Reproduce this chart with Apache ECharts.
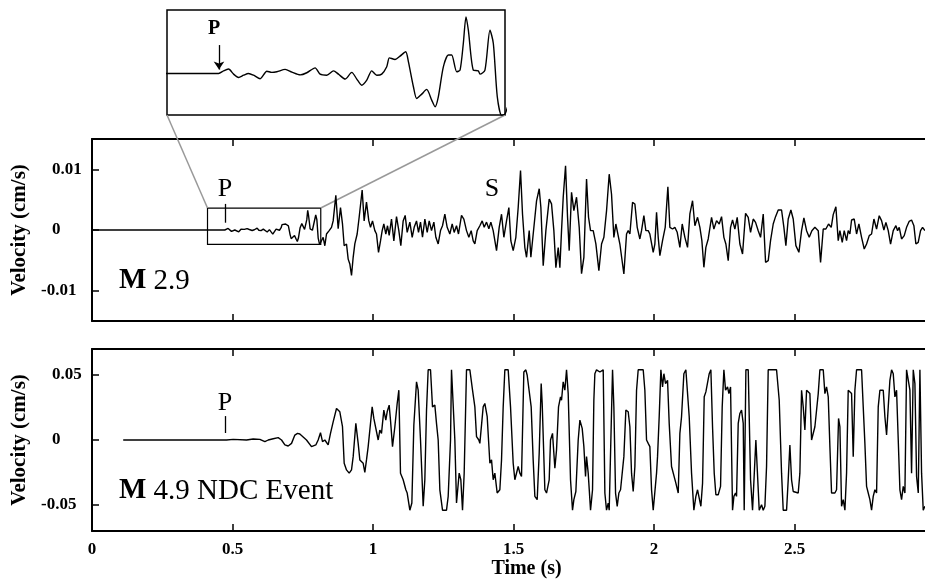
<!DOCTYPE html>
<html><head><meta charset="utf-8">
<script src="https://cdn.jsdelivr.net/npm/echarts@6/dist/echarts.min.js"></script>
<style>html,body{margin:0;padding:0;background:#fff}#c{width:925px;height:580px}</style>
</head><body><div id="c"></div>
<script>
// ---- data (time s, velocity cm/s) ----
const topTrace = [
[0,0],[0.4725,0],[0.4784,0.00015],[0.4844,0.00025],[0.4904,-0.00004],[0.4963,-0.00023],[0.5023,-0.0001],[0.5082,0],[0.5142,-0.0001],[0.5221,-0.0003],[0.5301,0.00013],[0.536,0.00006],[0.542,0.0001],[0.5519,0.00023],[0.5598,0.00008],[0.5698,-0.00008],[0.5777,0.00004],[0.5876,0.00032],[0.5936,-0.00004],[0.6015,-0.0001],[0.6095,0.00015],[0.6154,-0.00004],[0.6234,-0.00032],[0.6313,0.00006],[0.6373,-0.00032],[0.6432,-0.00067],[0.6492,-0.00038],[0.6551,0.00015],[0.6611,-0.0001],[0.667,-0.00004],[0.673,0.00038],[0.6762,0.00089],[0.6829,0.0008],[0.6889,0.00099],[0.6956,0.00124],[0.6988,0.00067],[0.7048,-0.00076],[0.7087,-0.00143],[0.7147,-0.00118],[0.7206,-0.00091],[0.7266,-0.00152],[0.7306,-0.0019],[0.7345,-0.00133],[0.7405,0.00038],[0.7465,0.00105],[0.7504,0.00105],[0.7564,0.0001],[0.7604,0.00019],[0.7643,0.00171],[0.7675,0.00323],[0.7703,0.00247],[0.7762,0.00019],[0.7822,0.00015],[0.7842,-0.00004],[0.7901,0.00019],[0.7961,0.00247],[0.8001,0.00171],[0.8048,-0.00133],[0.81,-0.0024],
[0.8142,-0.0023],[0.8225,-0.0012],[0.8285,-0.0026],[0.8344,-0.00066],[0.8439,-0.0001],[0.8522,0.00044],[0.8581,0.0015],[0.8676,0.0057],[0.8759,0.0002],[0.8842,0.0037],[0.8913,0.001],[0.8973,-0.0026],[0.9056,-0.0023],[0.9115,-0.0048],[0.9174,-0.0056],[0.9234,-0.0075],[0.9293,-0.0045],[0.9352,-0.0023],[0.9435,-0.00066],[0.9506,0.0021],[0.9613,0.0066],[0.9684,0.0015],[0.9767,0.0046],[0.985,0.0015],[0.991,0.00044],[0.9981,0.0015],[1.0064,-0.0001],[1.0123,-0.00066],[1.0195,-0.0037],[1.0266,-0.0018],[1.0325,-0.0001],[1.0384,0.001],[1.0455,-0.00066],[1.0515,0.0007],[1.0574,-0.0009],[1.0657,0.0018],[1.074,-0.0018],[1.0835,0.0022],[1.0918,-0.0001],[1.0989,-0.0026],[1.1072,0.0015],[1.1143,0.0024],[1.1215,-0.0004],[1.131,0.0013],[1.1393,-0.0012],[1.1464,0.00044],[1.1547,0.0015],[1.1618,-0.0004],[1.1689,0.0013],[1.176,-0.0012],[1.1844,0.0018],[1.1927,-0.0004],[1.1998,0.0015],[1.2081,-0.0001],[1.2164,0.0013],[1.2235,-0.0012],[1.2318,-0.0023],[1.2401,-0.0001],[1.2472,0.0007],[1.2555,0.0026],[1.2638,0.00044],[1.2733,-0.00066],[1.2816,0.001],[1.2887,-0.0004],[1.297,0.0007],[1.3041,-0.00066],[1.3148,0.0024],[1.3231,0.0018],[1.3326,-0.0001],[1.3409,-0.0012],[1.3492,-0.0001],[1.3564,-0.0018],[1.3623,-0.0023],[1.3706,-0.0001],[1.3801,0.0007],[1.3884,0.0015],[1.3955,0.00044],[1.4038,0.0013],[1.4121,0.0002],[1.4192,0.0013],[1.4275,-0.0001],[1.4394,-0.0034],[1.4489,0.00044],[1.4572,0.0026],[1.4655,-0.0012],[1.475,0.0015],[1.4833,0.0037],[1.4904,-0.0018],[1.4987,-0.0034],[1.5082,-0.0012],[1.5165,0.0037],[1.5248,0.0098],[1.5319,0.0026],[1.5402,-0.0029],[1.5462,-0.0045],[1.5557,-0.0001],[1.5616,-0.0045],[1.5699,-0.00066],[1.5818,0.0048],[1.5913,0.0068],[1.5972,0.0037],[1.6055,-0.0059],[1.615,-0.0001],[1.6268,0.0051],[1.6351,0.0043],[1.6434,-0.0001],[1.6506,-0.0062],[1.6589,-0.0029],[1.6648,-0.0062],[1.6707,-0.0001],[1.6767,0.0054],[1.685,0.0106],[1.6921,0.0021],[1.698,-0.0034],[1.7063,0.0062],[1.7146,0.0032],[1.7241,0.0054],[1.7336,0.00044],[1.7419,-0.0072],[1.7502,-0.0045],[1.7597,0.0084],[1.7668,0.0021],[1.7739,-0.0001],[1.7834,-0.0001],[1.7929,-0.0023],[1.8036,-0.0067],[1.8131,-0.0023],[1.8214,-0.0012],[1.8309,0.0032],[1.8403,0.0092],[1.8486,0.0059],
[1.8569,-0.00121],[1.864,0.00099],[1.87,0.00071],[1.8783,-0.00231],[1.8925,-0.00725],[1.902,-0.00066],[1.9079,-0.00011],[1.9139,-0.00066],[1.9234,0.00456],[1.9317,0.00428],[1.94,0.00044],[1.9494,-0.00148],[1.9554,-0.00011],[1.9637,0.00236],[1.9708,-0.00011],[1.9791,-0.00011],[1.985,-0.00066],[1.9969,-0.00368],[2.0028,-0.00231],[2.0088,0.00291],[2.0147,-0.00121],[2.0206,-0.00423],[2.0301,-0.00176],[2.0396,0.00044],[2.0491,0.00714],[2.0562,0.00044],[2.0657,0.00016],[2.074,0.00044],[2.0823,-0.00038],[2.0918,-0.00286],[2.1001,0.00099],[2.1096,-0.00121],[2.1191,-0.00286],[2.1274,0.00264],[2.1369,0.00483],[2.1452,0.00071],[2.1547,0.00209],[2.163,0.00044],[2.1701,-0.00176],[2.1772,-0.00615],[2.1843,-0.00286],[2.1926,-0.00148],[2.2045,0.00209],[2.2128,0.00016],[2.2223,0.00154],[2.2318,0.00099],[2.2401,0.0022],[2.2484,-0.00121],[2.2555,-0.00231],[2.2638,-0.00505],[2.2721,0.00044],[2.2792,0.00165],[2.2875,0.00016],[2.2958,0.00209],[2.3053,-0.00231],[2.3148,-0.00395],[2.3255,0.00275],[2.335,0.00209],[2.3433,-0.00038],[2.3528,0.00181],[2.3611,0.00126],[2.3706,-0.00011],[2.3789,-0.00121],[2.3884,0.00264],[2.3967,-0.00533],[2.4062,-0.00505],[2.4144,-0.00176],[2.4239,0.00099],[2.4322,0.0022],[2.4417,0.0033],[2.4536,0.0033],[2.4619,0.00044],[2.469,-0.00258],[2.4773,0.00181],[2.4868,0.0033],[2.4951,0.00181],[2.5046,-0.00258],[2.5153,-0.00368],[2.5248,-0.00011],[2.5331,0.00198],[2.5426,-0.00011],[2.552,-0.00121],[2.5615,-0.00011],[2.5722,0.00044],[2.5841,-0.00011],[2.5924,-0.00533],[2.6019,0.00016],[2.6113,0.00016],[2.6208,0.00099],[2.6303,0.00044],[2.6374,0.00253],[2.6469,0.00384],[2.6552,-0.00176],[2.6612,-0.00011],[2.6695,-0.00203],[2.6766,-0.00011],[2.6849,-0.00176],[2.6908,-0.00011],[2.6968,-0.00066],[2.7027,0.00165],[2.7122,0.00181],[2.7205,-0.00066],[2.7288,0.00099],[2.7383,-0.00121],[2.7478,-0.00313],[2.7561,-0.00231],[2.7656,-0.00093],[2.7739,-0.00066],[2.7822,0.00181],[2.7917,0.00016],[2.8011,0.00236],[2.8094,0.00154],[2.8177,0],[2.8249,0.00126],[2.8332,-0.00011],[2.8415,-0.00231],[2.851,-0.00011],[2.8605,0.00071],[2.8664,-0.00011],[2.8723,0.00044],[2.8806,-0.00148],[2.8901,-0.00093],[2.8984,0.00044],[2.9079,0.00143],[2.9162,0.00165],[2.9245,0.00071],[2.9316,-0.00231],[2.9399,-0.00203],[2.9482,-0.00011],[2.9553,0.00044],[2.9636,-0.00011]
];
const bottomTrace = [
[0.111,0],[0.4786,0],[0.5024,0.0005],[0.5498,0],[0.5735,0.0008],[0.5973,0.0005],[0.6151,-0.0013],[0.627,0],[0.6447,0.001],[0.6625,0.0018],[0.6744,0],[0.6863,-0.0038],[0.6981,-0.0046],[0.71,-0.0026],[0.7218,0.0038],[0.7313,0.0051],[0.7395,0.0046],[0.7632,0],[0.781,-0.0051],[0.7964,-0.0038],[0.8047,0],[0.813,0.0056],[0.8202,-0.0013],[0.8285,0],[0.8403,-0.0038],[0.8486,0.0051],[0.8581,0.014],[0.87,0.0242],[0.8818,0.0217],[0.8913,0.0102],[0.8973,-0.0179],[0.9056,-0.023],[0.9151,-0.0255],[0.9234,-0.023],[0.9293,-0.0128],[0.9388,0.0128],[0.9471,-0.0026],[0.953,-0.0153],[0.9589,-0.014],[0.9649,-0.0179],[0.9708,-0.025],[0.9767,-0.0153],[0.9827,-0.0051],[0.991,0.0128],[0.9969,0.0255],[1.0028,0.0166],[1.0099,0.0153],[1.0183,0],[1.0242,0.0077],[1.0301,0.0051],[1.0384,0.023],[1.0455,0.0153],[1.0503,0.0217],[1.0574,0.0268],[1.0621,0.0153],[1.0693,-0.0051],[1.0776,0.0102],[1.0859,0.0281],[1.0918,0.0383],[1.0977,-0.0255],[1.1072,-0.0306],[1.1167,-0.0383],[1.1215,-0.0408],[1.131,-0.054],[1.1381,-0.0485],[1.1452,0.0115],[1.1499,0.0128],[1.1547,0.0447],[1.1606,0.0383],[1.1689,0],[1.1784,-0.051],[1.1843,-0.0306],[1.1903,0.023],[1.1962,0.054],[1.2045,0.054],[1.2116,0.0255],[1.2199,0.0268],[1.2258,0.0128],[1.2318,0],[1.2377,-0.0383],[1.2472,-0.054],[1.2614,-0.054],[1.2674,-0.0434],[1.2757,0],[1.2792,0.054],[1.2852,0.054],[1.2911,0],[1.297,-0.0485],[1.3065,-0.0255],[1.3124,-0.0306],[1.3184,-0.054],[1.3243,-0.0255],[1.3326,0.054],[1.3445,0.054],[1.354,0.0383],[1.3623,0.0255],[1.3682,0.0026],[1.3765,0],[1.3801,-0.0026],[1.386,-0.0026],[1.3919,0.0255],[1.3978,0.0281],[1.4062,0.0179],[1.4157,-0.0179],[1.4216,-0.0153],[1.4275,-0.0306],[1.4334,-0.0255],[1.4417,-0.0408],[1.4512,-0.0383],[1.4572,-0.0153],[1.4631,0.0255],[1.469,0.054],[1.4809,0.054],[1.4892,0.0255],[1.4987,-0.0179],[1.5046,-0.0306],[1.5105,-0.0306],[1.5165,-0.0204],[1.5224,-0.0255],[1.5283,-0.0281],[1.5366,0.0523],[1.5437,0.054],[1.5485,0.0498],[1.5556,0.051],[1.5627,0.0255],[1.5698,-0.0153],[1.5758,-0.0434],[1.5841,-0.0459],[1.5912,-0.0102],[1.5983,0.0434],[1.6019,0.0281],[1.6114,-0.0383],[1.6173,-0.0408],[1.6268,-0.0306],[1.6315,0],[1.6386,0.0051],[1.647,-0.0217],[1.6529,-0.0077],[1.66,0.0255],[1.6671,0.0332],[1.6707,0.0306],[1.6766,0.0447],[1.6825,0.0383],[1.6885,0.054],[1.6944,0.0357],[1.7027,-0.0306],[1.7098,-0.054],[1.7146,-0.0459],[1.7217,-0.0396],[1.73,0],[1.736,0.0153],[1.7442,0.0089],[1.7502,-0.0051],[1.7561,-0.0281],[1.7597,-0.0128],[1.7656,-0.0255],[1.7739,-0.054],[1.781,-0.0383],[1.7857,0.0306],[1.7893,0.051],[1.7952,0.054],[1.8071,0.0523],[1.819,0.054],
[1.8249,-0.0408],[1.8308,-0.054],[1.8368,-0.0485],[1.8403,-0.054],[1.8462,0],[1.8522,0.054],[1.8569,0.0255],[1.8629,-0.0408],[1.8688,-0.051],[1.8747,-0.0408],[1.8807,-0.0383],[1.8878,-0.0396],[1.8925,-0.0128],[1.8996,0.023],[1.9079,0.0217],[1.9139,0.0102],[1.9198,-0.0255],[1.9257,-0.0396],[1.9317,-0.0204],[1.9376,0.0383],[1.9435,0.054],[1.9613,0.054],[1.9672,0.0383],[1.9732,0],[1.9791,-0.0026],[1.985,-0.0051],[1.991,-0.0383],[1.9969,-0.054],[2.0028,-0.054],[2.0088,-0.0255],[2.0123,-0.0128],[2.0182,0.0179],[2.0242,0.054],[2.0301,0.0408],[2.0349,0.051],[2.0408,0.0434],[2.0479,0.0459],[2.0538,0.0128],[2.0621,-0.0204],[2.0681,-0.0191],[2.0775,-0.0332],[2.0859,-0.0408],[2.0918,0.0051],[2.0977,0.0179],[2.106,0.051],[2.1131,0.054],[2.1179,0.054],[2.125,0.0179],[2.1333,-0.0255],[2.1416,-0.054],[2.1487,-0.0434],[2.1547,-0.0383],[2.1606,-0.0383],[2.1665,-0.051],[2.1725,-0.0332],[2.1784,0.0332],[2.1843,0.037],[2.1891,0.0383],[2.1962,0.051],[2.2021,0.054],[2.208,0.0102],[2.214,-0.0255],[2.2199,-0.0421],[2.2282,-0.0421],[2.2365,-0.0357],[2.2424,0.0255],[2.2484,0.054],[2.2543,0.0383],[2.2614,0.0408],[2.2662,0.0357],[2.2721,0.0408],[2.2792,-0.054],[2.284,-0.0434],[2.2899,-0.0408],[2.2934,-0.0434],[2.2994,0.0128],[2.3053,0.0204],[2.3112,0.023],[2.3172,0.0128],[2.3207,-0.054],[2.3267,0.054],[2.335,0.054],[2.3433,-0.0306],[2.3504,-0.054],[2.3551,-0.054],[2.3622,0],[2.367,0.0013],[2.3741,-0.054],[2.3824,-0.0498],[2.3883,-0.054],[2.3943,-0.051],[2.4002,-0.0204],[2.4061,0.054],[2.4358,0.054],[2.4453,0.0306],[2.4536,-0.0255],[2.4595,-0.054],[2.4714,-0.054],[2.4773,-0.0306],[2.4832,-0.0038],[2.4892,-0.0306],[2.4951,-0.0396],[2.501,-0.0396],[2.5129,-0.0408],[2.5188,-0.0255],[2.5248,0.0383],[2.5307,0.0255],[2.5366,0.0077],[2.5426,0.0383],[2.5485,0.037],[2.5544,0.0357],[2.5604,0],[2.5722,0.0102],[2.5841,0.0357],[2.59,0.054],[2.6019,0.054],[2.6078,0.0357],[2.6137,0.0408],[2.6197,0.0332],[2.6256,-0.0051],[2.6315,-0.0408],[2.6374,-0.0396],[2.6434,-0.0408],[2.6493,-0.0383],[2.6564,0.0166],[2.6612,0.0102],[2.6671,-0.051],[2.673,-0.0459],[2.679,-0.054],[2.6849,-0.0255],[2.6908,0.0383],[2.6968,0.037],[2.7027,0.0357],[2.7086,-0.0128],[2.7145,0.0383],[2.7205,0.054],[2.7383,0.054],[2.7442,0.0255],[2.7501,-0.0026],[2.7561,-0.0357],[2.762,-0.0408],[2.7679,-0.0459],[2.7739,-0.054],[2.7798,-0.0434],[2.7857,-0.0383],[2.7917,-0.0408],[2.7976,0.0255],[2.8035,0.0383],[2.8095,0.037],[2.8154,0.0383],[2.8213,0.0179],[2.8273,0.0038],[2.8332,0.0255],[2.8391,0.0459],[2.8451,0.054],[2.851,0.051],[2.8569,0.0332],[2.8628,0.0383],[2.8688,0],[2.8747,-0.0383],[2.8806,-0.0459],[2.8866,-0.0357],[2.8925,-0.0408],[2.8984,0.054],[2.9043,0.054],[2.9103,0.0383],[2.9162,-0.0255],[2.9222,0.054],[2.9281,0.0434],[2.934,-0.0281],[2.94,-0.0408],[2.9459,0.054],[2.9518,-0.0255],[2.9577,-0.054],[2.9637,-0.051]
];
const timeTicks = [0, 0.5, 1, 1.5, 2, 2.5];
const topVelTicks = [-0.01, 0, 0.01];
const bottomVelTicks = [-0.05, 0, 0.05];
const insetTimeRange = [0.411, 0.814];
const insetVelRange = [-0.00237, 0.00362];
const pArrivalTop = 0.473;
const pArrivalBottom = 0.475;

// ---- chart ----
const SERIF = "'Liberation Serif','DejaVu Serif',serif";
const chart = echarts.init(document.getElementById('c'), null, {renderer: 'canvas'});
const TMAX = 2.964;

function timeAxis(grid, pos, showLabels, extra) {
  return Object.assign({
    type: 'value', gridIndex: grid, position: pos, min: 0, max: TMAX,
    axisLine: {show: true, onZero: false, lineStyle: {color: '#000', width: 2}},
    axisTick: {show: true, inside: true, length: 7, customValues: timeTicks, lineStyle: {color: '#000', width: 1.5}},
    axisLabel: {show: showLabels, customValues: timeTicks, margin: 10, color: '#000',
      fontFamily: SERIF, fontWeight: 'bold', fontSize: 17},
    splitLine: {show: false}
  }, extra || {});
}
function velAxis(grid, mn, mx, ticks) {
  const rs = {fontFamily: SERIF, fontWeight: 'bold', fontSize: 17, color: '#000', align: 'left'};
  return {
    type: 'value', gridIndex: grid, min: mn, max: mx,
    name: 'Velocity (cm/s)', nameLocation: 'middle', nameGap: 53,
    nameTextStyle: {fontFamily: SERIF, fontWeight: 'bold', fontSize: 21, color: '#000'},
    axisLine: {show: true, onZero: false, lineStyle: {color: '#000', width: 2}},
    axisTick: {show: true, inside: true, length: 7, customValues: ticks, lineStyle: {color: '#000', width: 1.5}},
    axisLabel: {show: true, customValues: ticks, margin: 10, align: 'right',
      formatter: v => (v < 0 ? '{n|' + v + '}' : '{p|' + v + '}'),
      rich: {p: Object.assign({width: 30}, rs), n: Object.assign({width: 41}, rs)}},
    splitLine: {show: false}
  };
}

const option = {
  animation: false,
  backgroundColor: '#fff',
  grid: [
    {left: 92, top: 139, width: 833, height: 182},
    {left: 92, top: 349, width: 833, height: 183},
    {left: 167, top: 10, width: 338, height: 105, show: true, borderColor: '#000', borderWidth: 1.5, backgroundColor: '#fff'}
  ],
  xAxis: [
    timeAxis(0, 'bottom', false),
    timeAxis(0, 'top', false),
    timeAxis(1, 'bottom', true, {name: 'Time (s)', nameLocation: 'middle', nameGap: 28,
      nameTextStyle: {fontFamily: SERIF, fontWeight: 'bold', fontSize: 20, color: '#000', padding: [0, 0, 0, 36]}}),
    timeAxis(1, 'top', false),
    {type: 'value', gridIndex: 2, min: insetTimeRange[0], max: insetTimeRange[1], show: false}
  ],
  yAxis: [
    velAxis(0, -0.015, 0.015, topVelTicks),
    velAxis(1, -0.07, 0.07, bottomVelTicks),
    {type: 'value', gridIndex: 2, min: insetVelRange[0], max: insetVelRange[1], show: false}
  ],
  series: [
    {type: 'line', xAxisIndex: 0, yAxisIndex: 0, data: topTrace, showSymbol: false, symbol: 'none',
      lineStyle: {color: '#000', width: 1.4}, silent: true,
      markLine: {silent: true, symbol: 'none', label: {show: false},
        lineStyle: {color: '#000', width: 1.3, type: 'solid'},
        data: [[{coord: [pArrivalTop, 0.0012]}, {coord: [pArrivalTop, 0.0043]}]]},
      markArea: {silent: true, label: {show: false},
        itemStyle: {color: 'rgba(0,0,0,0)', borderColor: '#000', borderWidth: 1.2},
        data: [[{coord: [insetTimeRange[0], insetVelRange[1]]}, {coord: [insetTimeRange[1], insetVelRange[0]]}]]}
    },
    {type: 'line', xAxisIndex: 2, yAxisIndex: 1, data: bottomTrace, showSymbol: false, symbol: 'none',
      lineStyle: {color: '#000', width: 1.4}, silent: true,
      markLine: {silent: true, symbol: 'none', label: {show: false},
        lineStyle: {color: '#000', width: 1.3, type: 'solid'},
        data: [[{coord: [pArrivalBottom, 0.0054]}, {coord: [pArrivalBottom, 0.0184]}]]}
    },
    {type: 'line', xAxisIndex: 4, yAxisIndex: 2, data: topTrace, showSymbol: false, symbol: 'none',
      smooth: 0.25, lineStyle: {color: '#000', width: 1.4}, silent: true,
      markLine: {silent: true, symbol: ['none', 'arrow'], symbolSize: 8, label: {show: false},
        lineStyle: {color: '#000', width: 1.3, type: 'solid'},
        data: [[{coord: [pArrivalTop, 0.00162]}, {coord: [pArrivalTop, 0.00022]}]]}
    }
  ]
};
chart.setOption(option);

const tl = chart.convertToPixel({seriesIndex: 0}, [insetTimeRange[0], insetVelRange[1]]);
const tr = chart.convertToPixel({seriesIndex: 0}, [insetTimeRange[1], insetVelRange[1]]);
const il = chart.convertToPixel({seriesIndex: 2}, [insetTimeRange[0], insetVelRange[0]]);
const ir = chart.convertToPixel({seriesIndex: 2}, [insetTimeRange[1], insetVelRange[0]]);

function txt(x, y, text, size, weight, extra) {
  return {type: 'text', x: x, y: y, z: 50, silent: true,
    style: Object.assign({text: text, fontFamily: SERIF, fontSize: size, fontWeight: weight || 'normal',
      fill: '#000', align: 'center', verticalAlign: 'middle'}, extra || {})};
}
chart.setOption({
  graphic: [
    {type: 'line', silent: true, z: 1, shape: {x1: il[0], y1: il[1], x2: tl[0], y2: tl[1]}, style: {stroke: '#999', lineWidth: 1.5}},
    {type: 'line', silent: true, z: 1, shape: {x1: ir[0], y1: ir[1], x2: tr[0], y2: tr[1]}, style: {stroke: '#999', lineWidth: 1.5}},
    txt(225, 189, 'P', 26),
    txt(492, 189, 'S', 26),
    txt(225, 403, 'P', 26),
    txt(214, 29, 'P', 20, 'bold'),
    txt(119, 281, '{b|M} 2.9', 29, 'normal', {align: 'left',
      rich: {b: {fontFamily: SERIF, fontSize: 29, fontWeight: 'bold', fill: '#000'}}}),
    txt(119, 491, '{b|M} 4.9 NDC Event', 29, 'normal', {align: 'left',
      rich: {b: {fontFamily: SERIF, fontSize: 29, fontWeight: 'bold', fill: '#000'}}})
  ]
});
</script>
</body></html>
